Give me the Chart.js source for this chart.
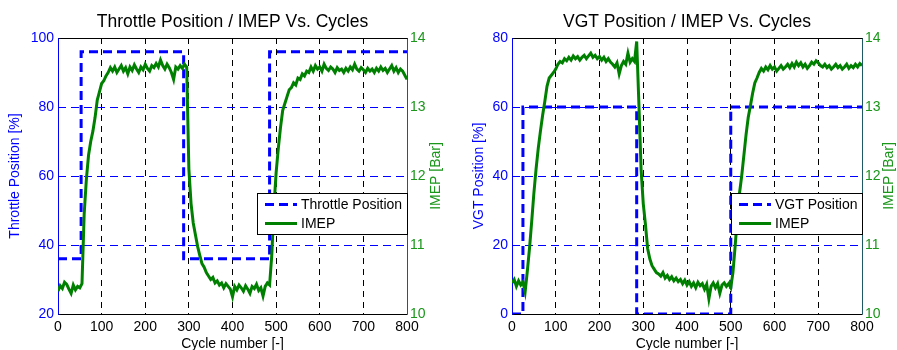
<!DOCTYPE html>
<html>
<head>
<meta charset="utf-8">
<script src="https://cdn.jsdelivr.net/npm/chart.js@4.4.0/dist/chart.umd.min.js"></script>
<style>
  body { margin: 0; background: #fff; }
  #wrap { position: relative; width: 897px; height: 350px; overflow: hidden; }
  canvas { position: absolute; top: 0; }
</style>
</head>
<body>
<div id="wrap">
  <canvas id="left" width="448" height="350" style="left:0"></canvas>
  <canvas id="right" width="449" height="350" style="left:448px"></canvas>
</div>
<script>
// IMEP is read every 5 cycles
var step = 5;

// actuator steps (corner points)
var throttleCycles = [0, 53, 53, 288, 288, 485, 485, 800];
var throttlePos    = [36, 36, 96, 96, 36, 36, 96, 96];

var vgtCycles = [0, 25, 25, 285, 285, 500, 500, 800];
var vgtPos    = [0, 0, 60, 60, 0, 0, 60, 60];

// IMEP [Bar] during the throttle test, cycles 0..800
var imepThrottle = [
  10.33,10.41,10.37,10.46,10.43,10.36,10.30,10.42,10.35,10.40, 10.38,10.44,11.45,11.95,12.30,12.50,12.65,12.85,13.10,13.22,
  13.34,13.38,13.45,13.50,13.57,13.52,13.58,13.50,13.55,13.60, 13.52,13.57,13.48,13.58,13.53,13.61,13.55,13.50,13.58,13.54,
  13.62,13.56,13.52,13.60,13.57,13.63,13.58,13.68,13.60,13.55, 13.62,13.57,13.50,13.40,13.58,13.55,13.60,13.56,13.62,13.58,
  12.10,11.60,11.32,11.15,10.98,10.85,10.73,10.68,10.60,10.55, 10.50,10.53,10.45,10.48,10.42,10.45,10.38,10.44,10.40,10.36,
  10.25,10.40,10.35,10.42,10.38,10.33,10.41,10.36,10.30,10.40, 10.37,10.43,10.34,10.38,10.26,10.40,10.45,10.42,10.85,11.55,
  12.05,12.40,12.70,12.95,13.05,13.15,13.25,13.28,13.35,13.32, 13.42,13.40,13.48,13.45,13.52,13.50,13.58,13.52,13.60,13.55,
  13.58,13.52,13.62,13.56,13.53,13.58,13.55,13.50,13.57,13.53, 13.55,13.50,13.56,13.52,13.58,13.54,13.62,13.55,13.52,13.57,
  13.54,13.50,13.56,13.52,13.55,13.50,13.56,13.52,13.58,13.53, 13.56,13.50,13.55,13.60,13.52,13.57,13.50,13.55,13.52,13.46,
  13.40
];

// IMEP [Bar] during the VGT test, cycles 0..800
var imepVgt = [
  10.45,10.50,10.40,10.48,10.42,10.46,10.32,10.62,10.95,11.34, 11.75,12.10,12.40,12.65,12.88,13.08,13.30,13.42,13.46,13.50,
  13.55,13.62,13.66,13.64,13.70,13.67,13.72,13.68,13.74,13.70, 13.73,13.68,13.72,13.75,13.70,13.74,13.78,13.72,13.75,13.70,
  13.73,13.68,13.72,13.66,13.70,13.65,13.62,13.58,13.64,13.48, 13.60,13.66,13.62,13.78,13.65,13.70,13.66,13.95,13.05,12.10,
  11.60,11.30,10.95,10.80,10.70,10.65,10.60,10.58,10.55,10.60, 10.52,10.56,10.50,10.54,10.48,10.52,10.47,10.50,10.44,10.49,
  10.42,10.47,10.40,10.45,10.38,10.46,10.41,10.44,10.36,10.43, 10.22,10.40,10.45,10.38,10.44,10.30,10.42,10.45,10.40,10.44,
  10.38,10.60,10.98,11.40,11.75,12.00,12.30,12.60,12.85,13.02, 13.20,13.35,13.42,13.50,13.56,13.52,13.58,13.54,13.60,13.55,
  13.58,13.52,13.56,13.60,13.55,13.58,13.62,13.57,13.63,13.58, 13.65,13.60,13.64,13.58,13.62,13.56,13.60,13.65,13.62,13.67,
  13.64,13.60,13.58,13.62,13.57,13.60,13.55,13.58,13.62,13.57, 13.60,13.55,13.58,13.62,13.56,13.60,13.57,13.62,13.58,13.63,
  13.60
];

var FONT = 'Arial, "Liberation Sans", Helvetica, sans-serif';
var BLUE = '#0000ff';
var GREEN = '#008000';
var GREEN_TXT = '#1a961a';

Chart.defaults.font.family = FONT;
Chart.defaults.font.size = 14;

// box round the axes, drawn under the lines
var frame = {
  id: 'frame',
  beforeDatasetsDraw: function(chart, args, opts) {
    var a = chart.chartArea, c = chart.ctx;
    var l = Math.round(a.left) + 0.5, r = Math.round(a.right) + 0.5;
    var t = Math.round(a.top) + 0.5, b = Math.round(a.bottom) + 0.5;
    c.save();
    c.lineWidth = 1;
    c.setLineDash([]);
    c.strokeStyle = '#000';
    c.beginPath(); c.moveTo(l, t); c.lineTo(r, t); c.moveTo(l, b); c.lineTo(r, b); c.stroke();
    c.strokeStyle = BLUE;
    c.beginPath(); c.moveTo(l, t); c.lineTo(l, b); c.stroke();
    c.strokeStyle = opts.rightColor;
    c.beginPath(); c.moveTo(r, t); c.lineTo(r, b); c.stroke();
    c.restore();
  },
  afterDraw: function(chart, args, opts) {
    // right axis label, reading bottom to top like the left one
    var a = chart.chartArea, c = chart.ctx;
    c.save();
    c.translate(chart.width - opts.titleOffset, (a.top + a.bottom) / 2);
    c.rotate(-Math.PI / 2);
    c.font = '14px ' + FONT;
    c.fillStyle = GREEN_TXT;
    c.textAlign = 'center';
    c.textBaseline = 'middle';
    c.fillText(opts.title, 0, 0);
    c.restore();
  }
};

// legend box in the lower right of the axes
var boxLegend = {
  id: 'boxLegend',
  afterDatasetsDraw: function(chart, args, opts) {
    var a = chart.chartArea, c = chart.ctx;
    var sets = chart.data.datasets;
    c.save();
    c.font = '14px ' + FONT;
    var textW = 0;
    sets.forEach(function(d) { textW = Math.max(textW, c.measureText(d.label).width); });
    var w = Math.round(8 + 32 + 4 + textW + 5), h = 41;
    var x = Math.round(a.right) - w, y = Math.round(a.top) + opts.offset;
    c.fillStyle = '#fff';
    c.fillRect(x, y, w, h);
    c.strokeStyle = '#000';
    c.lineWidth = 1;
    c.strokeRect(x + 0.5, y + 0.5, w, h);
    sets.forEach(function(d, i) {
      var ly = y + 11 + i * 19;
      c.beginPath();
      c.setLineDash(d.borderDash || []);
      c.strokeStyle = d.borderColor;
      c.lineWidth = 3;
      c.moveTo(x + 8, ly + 0.5);
      c.lineTo(x + 40, ly + 0.5);
      c.stroke();
      c.setLineDash([]);
      c.fillStyle = '#000';
      c.textBaseline = 'middle';
      c.fillText(d.label, x + 44, ly + 1);
    });
    c.restore();
  }
};

function makeChart(id, o) {
  var posData = o.posX.map(function(x, i) { return {x: x, y: o.posY[i]}; });
  var imepData = o.imep.map(function(v, i) { return {x: i * step, y: v}; });

  return new Chart(document.getElementById(id), {
    type: 'line',
    data: {
      datasets: [
        { label: o.posLabel, data: posData, yAxisID: 'y', borderColor: BLUE, borderWidth: 3,
          borderDash: [9, 5], pointRadius: 0, tension: 0, order: 2 },
        { label: 'IMEP', data: imepData, yAxisID: 'y1', borderColor: GREEN, borderWidth: 3,
          pointRadius: 0, tension: 0, order: 1 }
      ]
    },
    options: {
      responsive: false,
      animation: false,
      devicePixelRatio: 1,
      layout: { padding: 0 },
      plugins: {
        legend: { display: false },
        tooltip: { enabled: false },
        title: {
          display: true, text: o.title, color: '#000', fullSize: false,
          font: { size: 17.5, weight: 'normal' }, padding: { top: 12, bottom: 5 }
        },
        frame: { rightColor: o.rightAxisColor, title: 'IMEP [Bar]', titleOffset: o.rightTitleOffset },
        boxLegend: { offset: 155 }
      },
      scales: {
        x: {
          type: 'linear', min: 0, max: 800,
          ticks: { stepSize: 100, color: '#000', padding: 5, maxRotation: 0 },
          grid: { color: '#000', drawTicks: false },
          border: { display: false, dash: [6, 5] },
          title: { display: true, text: 'Cycle number [-]', color: '#000',
                   font: { size: 14, lineHeight: 0.9 }, padding: { top: 0, bottom: 0 } },
          afterFit: function(s) { s.height = 36; }
        },
        y: {
          position: 'left', min: o.posMin, max: o.posMax,
          ticks: { stepSize: 20, color: BLUE, padding: 4 },
          grid: { color: BLUE, drawTicks: false },
          border: { display: false, dash: [8, 5] },
          title: { display: true, text: o.yTitle, color: BLUE,
                   font: { size: 14, lineHeight: 1 }, padding: { top: o.leftTitlePad, bottom: 0 } },
          afterFit: function(s) { s.width = o.leftW; }
        },
        y1: {
          position: 'right', min: 10, max: 14,
          ticks: { stepSize: 1, color: GREEN_TXT, padding: 3 },
          grid: { drawOnChartArea: false, drawTicks: false },
          border: { display: false },
          afterFit: function(s) { s.width = o.rightW; }
        }
      }
    },
    plugins: [frame, boxLegend]
  });
}

makeChart('left', {
  title: 'Throttle Position / IMEP Vs. Cycles',
  posLabel: 'Throttle Position', yTitle: 'Throttle Position [%]',
  posX: throttleCycles, posY: throttlePos, imep: imepThrottle,
  posMin: 20, posMax: 100,
  leftW: 58, rightW: 41, leftTitlePad: 8, rightTitleOffset: 12,
  rightAxisColor: GREEN
});

makeChart('right', {
  title: 'VGT Position / IMEP Vs. Cycles',
  posLabel: 'VGT Position', yTitle: 'VGT Position [%]',
  posX: vgtCycles, posY: vgtPos, imep: imepVgt,
  posMin: 0, posMax: 80,
  leftW: 64, rightW: 35, leftTitlePad: 24, rightTitleOffset: 8,
  rightAxisColor: '#1e5a66'
});
</script>
</body>
</html>
